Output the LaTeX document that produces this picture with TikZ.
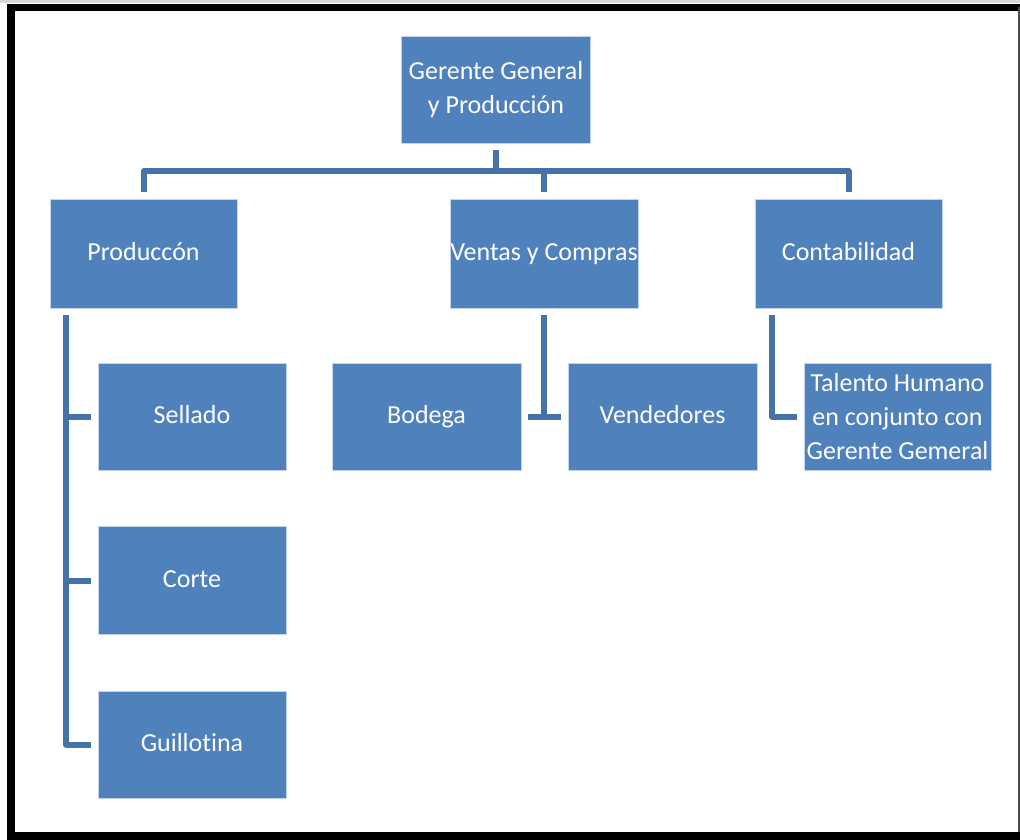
\documentclass[tikz,border=0pt]{standalone}
\usepackage{fontspec}
\setmainfont{Carlito}[Ligatures=NoCommon]
\definecolor{boxblue}{RGB}{79,129,189}
\definecolor{linkblue}{RGB}{69,114,167}
\definecolor{edgeblue}{RGB}{196,212,234}
\tikzset{
  unit/.style={rectangle, fill=boxblue, draw=edgeblue, line width=0.9pt,
    text=white, font=\fontsize{26}{34}\selectfont, align=center,
    inner sep=0pt, outer sep=7pt},
  oneline/.style={text height=18pt, text depth=5pt},
  conn/.style={draw=linkblue, line width=6pt, line join=round, line cap=butt},
  frame/.style={draw=black, line width=7.5pt}
}
\begin{document}
\begin{tikzpicture}[x=1pt, y=-1pt]
\useasboundingbox (0,0) rectangle (1020,840);
% page frame
\draw[black!15, line width=3pt] (0,1.5) -- (1020,1.5);
\draw[frame] (1020,7.5) -- (11,7.5) -- (11,836) -- (1020,836);
\draw[black!70, line width=1.5pt] (1019,7.5) -- (1019,832);

% units
\node[unit, minimum width=189pt, minimum height=107pt] (top) at (496,89.5) {Gerente General\\y Producción};
\node[unit, oneline, minimum width=187pt, minimum height=109pt] (prod) at (143.5,253.5) {Produccón};
\node[unit, oneline, minimum width=188pt, minimum height=109pt] (vent) at (544,253.5) {Ventas y Compras};
\node[unit, oneline, minimum width=187pt, minimum height=109pt] (cont) at (848.5,253.5) {Contabilidad};

\node[unit, oneline, minimum width=188pt, minimum height=107pt] (sell) at (192,416.5) {Sellado};
\node[unit, oneline, minimum width=188pt, minimum height=108pt] (cort) at (192,580.5) {Corte};
\node[unit, oneline, minimum width=188pt, minimum height=107pt] (guil) at (192,744.5) {Guillotina};

\node[unit, oneline, minimum width=189pt, minimum height=107pt] (bod) at (426.5,416.5) {Bodega};
\node[unit, oneline, minimum width=189pt, minimum height=107pt] (vend) at (662.5,416.5) {Vendedores};
\node[unit, minimum width=187pt, minimum height=107pt] (tal) at (897.5,416.5) {Talento Humano\\en conjunto con\\Gerente Gemeral};

% connector guides
\coordinate (bus) at (496,171);
\coordinate (pspine) at (66,0);
\coordinate (cspine) at (772,0);

% top level
\draw[conn] (top.south) -- (top.south |- bus);
\draw[conn] (prod.north) -- (prod.north |- bus) -- (cont.north |- bus) -- (cont.north);
\draw[conn] (vent.north) -- (vent.north |- bus);

% production branch
\draw[conn] (prod.south -| pspine) -- (guil.west -| pspine) -- (guil.west);
\draw[conn] (sell.west -| pspine) -- (sell.west);
\draw[conn] (cort.west -| pspine) -- (cort.west);

% sales branch
\draw[conn] (vent.south) -- (vent.south |- bod.east);
\draw[conn] (bod.east) -- (vend.west);

% accounting branch
\draw[conn] (cont.south -| cspine) -- (tal.west -| cspine) -- (tal.west);
\end{tikzpicture}
\end{document}
